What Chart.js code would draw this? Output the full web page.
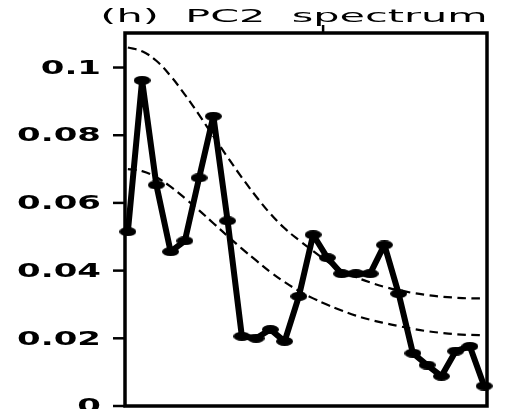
<!DOCTYPE html>
<html>
<head>
<meta charset="utf-8">
<script src="https://cdn.jsdelivr.net/npm/chart.js@4"></script>
<style>
  body { margin: 0; background: #fff; }
  canvas { display: block; }
</style>
</head>
<body>
<canvas id="grafico" width="508" height="409"></canvas>
<script>
// PC2 power spectrum, one value per frequency index
const indices = [0, 1, 2, 3, 4, 5, 6, 7, 8, 9, 10, 11, 12, 13, 14, 15, 16, 17, 18, 19, 20, 21, 22, 23, 24, 25];
const espectro = [0.0515, 0.0962, 0.0653, 0.0456, 0.0488, 0.0674, 0.0856, 0.0547, 0.0206, 0.0200,
                  0.0226, 0.0191, 0.0324, 0.0506, 0.0438, 0.0391, 0.0391, 0.0391, 0.0476, 0.0332,
                  0.0156, 0.0121, 0.0088, 0.0162, 0.0176, 0.0059];
// red noise curves (upper and lower)
const ruidoSup = [0.1059, 0.1048, 0.1020, 0.0975, 0.0920, 0.0860, 0.0797, 0.0735, 0.0675, 0.0619,
                  0.0568, 0.0525, 0.0490, 0.0458, 0.0427, 0.0401, 0.0381, 0.0365, 0.0352, 0.0342,
                  0.0334, 0.0328, 0.0323, 0.0320, 0.0318, 0.0318];
const ruidoInf = [0.0700, 0.0694, 0.0676, 0.0648, 0.0614, 0.0578, 0.0540, 0.0502, 0.0465, 0.0430,
                  0.0396, 0.0366, 0.0340, 0.0318, 0.0299, 0.0282, 0.0267, 0.0255, 0.0245, 0.0236,
                  0.0228, 0.0221, 0.0216, 0.0212, 0.0210, 0.0209];
const yTicks = [0, 0.02, 0.04, 0.06, 0.08, 0.1];
const yLabels = ['0', '0.02', '0.04', '0.06', '0.08', '0.1'];
const topTicks = [13.7];
const titulo = '(h)  PC2  spectrum';

const pares = (vals) => vals.map((v, i) => ({ x: indices[i], y: v }));

// flattened dot used as marker
function bolinha(w, h) {
  const c = document.createElement('canvas');
  c.width = w; c.height = h;
  const g = c.getContext('2d');
  g.fillStyle = '#000';
  g.beginPath();
  g.ellipse(w / 2, h / 2, w / 2, h / 2, 0, 0, Math.PI * 2);
  g.fill();
  return c;
}

// wide lettering, stretched horizontally
function textoLargo(ctx, txt, x, y, font, sx, align) {
  ctx.save();
  ctx.font = font;
  ctx.fillStyle = '#000';
  ctx.textBaseline = 'middle';
  ctx.textAlign = 'left';
  const w = ctx.measureText(txt).width * sx;
  let x0 = x;
  if (align === 'right') x0 = x - w;
  if (align === 'center') x0 = x - w / 2;
  ctx.translate(x0, y);
  ctx.scale(sx, 1);
  ctx.fillText(txt, 0, 0);
  ctx.restore();
}

const moldura = {
  id: 'moldura',
  afterDatasetsDraw(chart) {
    const { ctx, chartArea: a, scales } = chart;
    ctx.save();
    ctx.strokeStyle = '#000';
    ctx.lineWidth = 3.5;
    ctx.strokeRect(a.left, a.top, a.right - a.left, a.bottom - a.top);

    ctx.lineWidth = 2.5;
    yTicks.forEach((t, i) => {
      const py = scales.y.getPixelForValue(t);
      ctx.beginPath();
      ctx.moveTo(a.left - 12, py);
      ctx.lineTo(a.left, py);
      ctx.stroke();
      textoLargo(ctx, yLabels[i], 101, py + 1, 'bold 20px "DejaVu Sans"', 1.7, 'right');
    });

    topTicks.forEach(t => {
      const px = scales.x.getPixelForValue(t);
      ctx.beginPath();
      ctx.moveTo(px, a.top);
      ctx.lineTo(px, a.top - 8);
      ctx.stroke();
    });
    ctx.restore();

    textoLargo(ctx, titulo, 294, 17, '18px "DejaVu Sans"', 2.3, 'center');
  }
};

new Chart(document.getElementById('grafico'), {
  type: 'line',
  data: {
    datasets: [
      {
        label: 'PC2',
        data: pares(espectro),
        borderColor: '#000',
        borderWidth: 6,
        borderJoinStyle: 'round',
        borderCapStyle: 'round',
        pointStyle: bolinha(17, 9),
        pointRadius: 5,
        tension: 0,
        clip: false,
        order: 1
      },
      {
        label: 'red noise sup',
        data: pares(ruidoSup),
        borderColor: '#000',
        borderWidth: 2.2,
        borderDash: [9, 5],
        pointRadius: 0,
        tension: 0.4,
        order: 2
      },
      {
        label: 'red noise inf',
        data: pares(ruidoInf),
        borderColor: '#000',
        borderWidth: 2.2,
        borderDash: [9, 5],
        pointRadius: 0,
        tension: 0.4,
        order: 2
      }
    ]
  },
  options: {
    responsive: false,
    animation: false,
    layout: { autoPadding: false, padding: { left: 125, right: 21, top: 33, bottom: 3 } },
    plugins: { legend: { display: false }, tooltip: { enabled: false } },
    scales: {
      x: { type: 'linear', min: -0.2, max: 25.2, display: false },
      y: { min: 0, max: 0.1102, display: false }
    }
  },
  plugins: [moldura]
});
</script>
</body>
</html>
